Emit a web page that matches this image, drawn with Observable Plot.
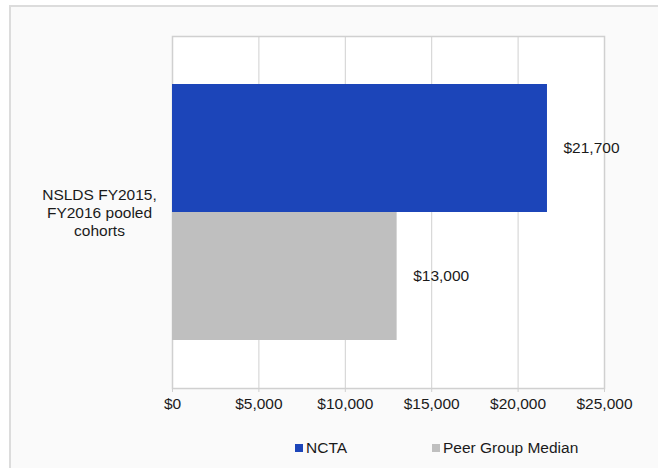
<!DOCTYPE html>
<html>
<head>
<meta charset="utf-8">
<script src="https://cdn.jsdelivr.net/npm/d3@7"></script>
<script src="https://cdn.jsdelivr.net/npm/@observablehq/plot@0.6"></script>
<style>
  html, body { margin: 0; padding: 0; background: #ffffff; width: 658px; height: 468px; overflow: hidden; font-family: "Liberation Sans", Arial, sans-serif; }
  #panel { position: absolute; left: 9px; top: 5px; width: 680px; height: 480px; background: #fafafa; border-top: 2px solid #dcdcdc; border-left: 2px solid #dcdcdc; }
  #chart { position: absolute; left: 0; top: 0; }
  #chart g[aria-label="x-axis tick label"], #chart g[aria-label="x-axis tick label"] text { font-size: 15.5px !important; font-variant: normal !important; }
  #legend { position: absolute; left: 0; top: 439px; width: 658px; height: 20px; font-size: 15.5px; color: #1a1a1a; }
  .item { position: absolute; top: 0; display: flex; align-items: center; }
  .sw { width: 8px; height: 8px; margin-right: 3px; }
</style>
</head>
<body>
<div id="panel"></div>
<div id="chart"></div>
<div id="legend"></div>
<script>
const category = "NSLDS FY2015,\nFY2016 pooled\ncohorts";
const series = ["NCTA", "Peer Group Median"];
const values = [21700, 13000];
const colors = ["#1c45b9", "#bfbfbf"];
const xTicks = [0, 5000, 10000, 15000, 20000, 25000];

const data = series.map((s, i) => ({series: s, value: values[i]}));
const fmt = d3.format("$,");
const FS = 15.5;

const chart = Plot.plot({
  width: 658,
  height: 420,
  marginLeft: 172,
  marginRight: 54,
  marginTop: 36,
  marginBottom: 32,
  style: {fontFamily: "'Liberation Sans', Arial, sans-serif", fontSize: FS + "px", color: "#1a1a1a", background: "transparent"},
  x: {domain: [0, 25000], ticks: xTicks, tickFormat: fmt, tickSize: 4, tickPadding: 6, label: null},
  y: {domain: series, axis: null, paddingInner: 0, paddingOuter: 0.375},
  color: {domain: series, range: colors},
  marks: [
    Plot.frame({fill: "white", stroke: null}),
    Plot.gridX(xTicks, {stroke: "#d0d0d0", strokeOpacity: 1}),
    Plot.frame({stroke: "#d0d0d0", strokeWidth: 1.5}),
    Plot.barX(data, {x: "value", y: "series", fill: "series"}),
    Plot.text(data, {x: "value", y: "series", text: d => fmt(d.value), textAnchor: "start", dx: 16, fill: "#1a1a1a", fontSize: FS}),
    Plot.text([category], {frameAnchor: "left", text: d => d, dx: -73, textAnchor: "middle", lineHeight: 1.15, fill: "#1a1a1a", fontSize: FS}),
    Plot.axisX({ticks: xTicks, tickFormat: fmt, tickSize: 4, tickPadding: 5, stroke: "#d0d0d0", color: "#1a1a1a", fontSize: FS, label: null})
  ]
});
document.getElementById("chart").appendChild(chart);

const legendX = [295, 432];
const legend = document.getElementById("legend");
series.forEach((s, i) => {
  const item = document.createElement("div");
  item.className = "item";
  item.style.left = legendX[i] + "px";
  const sw = document.createElement("span");
  sw.className = "sw";
  sw.style.background = colors[i];
  const t = document.createElement("span");
  t.textContent = s;
  item.appendChild(sw);
  item.appendChild(t);
  legend.appendChild(item);
});
</script>
</body>
</html>
